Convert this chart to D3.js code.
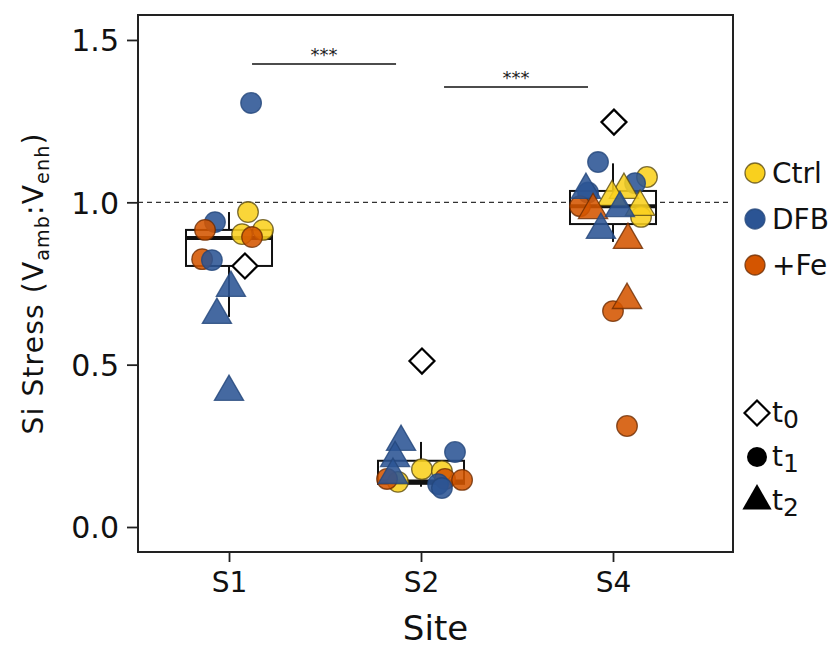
<!DOCTYPE html>
<html><head><meta charset="utf-8">
<script src="https://cdn.jsdelivr.net/npm/d3@7"></script>
<style>body{margin:0;background:#fff}text{font-family:"DejaVu Sans",Verdana,sans-serif}</style>
</head><body><svg id="c" width="833" height="649"></svg>
<script>
// ---- data ----
const sites = ["S1", "S2", "S4"];
const yTicks = [0.0, 0.5, 1.0, 1.5];
const treatments = ["Ctrl", "DFB", "+Fe"];
const times = ["t0", "t1", "t2"];
const colors = ["#F9D01E", "#2B5494", "#D45500"];
const strokes = ["#5c4c12", "#23467a", "#6e2c00"];

// points: site index (1..3), jitter (site units), value, treatment, time
const ptSite = [1,1,1,1,1,1,1,1,1,1,1,1,1,
                2,2,2,2,2,2,2,2,2,2,2,2,2,
                3,3,3,3,3,3,3,3,3,3,3,3,3,3,3,3,3,3];
const ptJitter = [0.115,0.099,-0.073,-0.125,0.068,0.177,0.120,-0.140,-0.089,0.010,-0.063,0.000,0.083,
                  0.177,0.005,0.109,-0.120,-0.177,0.125,0.089,0.109,0.214,-0.104,-0.135,-0.146,0.005,
                  -0.078,0.177,0.115,-0.130,-0.172,0.146,0.000,0.073,-0.141,0.057,-0.005,-0.104,0.141,0.036,-0.063,0.078,0.073,0.005];
const ptValue = [1.306,0.970,0.939,0.915,0.902,0.915,0.893,0.825,0.822,0.736,0.653,0.416,0.804,
                 0.231,0.178,0.172,0.139,0.148,0.148,0.132,0.120,0.145,0.262,0.212,0.160,0.511,
                 1.124,1.078,1.059,1.030,0.988,0.955,0.665,0.311,1.038,1.038,1.016,0.976,0.986,0.982,0.915,0.884,0.699,1.247];
const ptTreatment = ["DFB","Ctrl","DFB","+Fe","Ctrl","Ctrl","+Fe","+Fe","DFB","DFB","DFB","DFB",null,
                     "DFB","Ctrl","Ctrl","Ctrl","+Fe","+Fe","DFB","DFB","+Fe","DFB","DFB","DFB",null,
                     "DFB","Ctrl","DFB","DFB","+Fe","Ctrl","+Fe","+Fe","DFB","Ctrl","Ctrl","+Fe","Ctrl","DFB","DFB","+Fe","+Fe",null];
const ptTime = ["t1","t1","t1","t1","t1","t1","t1","t1","t1","t2","t2","t2","t0",
                "t1","t1","t1","t1","t1","t1","t1","t1","t1","t2","t2","t2","t0",
                "t1","t1","t1","t1","t1","t1","t1","t1","t2","t2","t2","t2","t2","t2","t2","t2","t2","t0"];

// box stats per site
const boxLo  = [0.647, 0.124, 0.878];
const boxQ1  = [0.804, 0.133, 0.933];
const boxMed = [0.890, 0.140, 0.988];
const boxQ3  = [0.915, 0.204, 1.035];
const boxHi  = [0.970, 0.262, 1.120];

// significance brackets: from site, to site (site units), y value, label
const sigFrom = [1.12, 2.12];
const sigTo   = [1.87, 2.87];
const sigY    = [1.426, 1.355];
const sigLabel = ["***", "***"];

// ---- chart ----
const svg = d3.select("#c");
const L = 138, R = 733, T = 15, B = 552;
const x = d3.scaleLinear().domain([0.526, 3.625]).range([L, R]);
const y = d3.scaleLinear().domain([-0.0770, 1.5769]).range([B, T]);
const col = d3.scaleOrdinal().domain(treatments).range(colors);
const scol = d3.scaleOrdinal().domain(treatments).range(strokes);
const boxHalf = 0.224;

// reference line
svg.append("line").attr("x1", L).attr("x2", R).attr("y1", y(1)).attr("y2", y(1))
  .attr("stroke", "#333").attr("stroke-width", 1.3).attr("stroke-dasharray", "5,4");

// boxes
sites.forEach((s, i) => {
  const cx = x(i + 1);
  const g = svg.append("g");
  g.append("line").attr("x1", cx).attr("x2", cx).attr("y1", y(boxHi[i])).attr("y2", y(boxQ3[i]))
    .attr("stroke", "#111").attr("stroke-width", 2);
  g.append("line").attr("x1", cx).attr("x2", cx).attr("y1", y(boxQ1[i])).attr("y2", y(boxLo[i]))
    .attr("stroke", "#111").attr("stroke-width", 2);
  g.append("rect").attr("x", x(i + 1 - boxHalf)).attr("width", x(i + 1 + boxHalf) - x(i + 1 - boxHalf))
    .attr("y", y(boxQ3[i])).attr("height", y(boxQ1[i]) - y(boxQ3[i]))
    .attr("fill", "#fff").attr("stroke", "#111").attr("stroke-width", 2);
  g.append("line").attr("x1", x(i + 1 - boxHalf)).attr("x2", x(i + 1 + boxHalf))
    .attr("y1", y(boxMed[i])).attr("y2", y(boxMed[i])).attr("stroke", "#111").attr("stroke-width", 4);
});

// points
const pts = ptValue.map((v, i) => ({site: ptSite[i], j: ptJitter[i], v, trt: ptTreatment[i], time: ptTime[i]}));
const symCircle = d3.symbol().type(d3.symbolCircle).size(Math.PI * 10.3 * 10.3);
const symTri = d3.symbol().type(d3.symbolTriangle).size(370);
const symDia = () => `M0,-12.5L12.5,0L0,12.5L-12.5,0Z`;
svg.append("g").selectAll("path").data(pts).join("path")
  .attr("transform", d => `translate(${x(d.site + d.j)},${y(d.v)})`)
  .attr("d", d => d.time === "t0" ? symDia() : d.time === "t1" ? symCircle() : symTri())
  .attr("fill", d => d.time === "t0" ? "#fff" : col(d.trt))
  .attr("fill-opacity", d => d.time === "t0" ? 1 : 0.88)
  .attr("stroke", d => d.time === "t0" ? "#000" : scol(d.trt))
  .attr("stroke-opacity", d => d.time === "t0" ? 1 : 0.8)
  .attr("stroke-width", d => d.time === "t0" ? 2.2 : 1.3);

// significance
sigFrom.forEach((f, i) => {
  svg.append("line").attr("x1", x(f)).attr("x2", x(sigTo[i])).attr("y1", y(sigY[i])).attr("y2", y(sigY[i]))
    .attr("stroke", "#111").attr("stroke-width", 1.5);
  svg.append("text").attr("x", x((f + sigTo[i]) / 2)).attr("y", y(sigY[i]) - 3)
    .attr("text-anchor", "middle").attr("font-size", 18).attr("fill", "#222").text(sigLabel[i]);
});

// frame
svg.append("rect").attr("x", L).attr("y", T).attr("width", R - L).attr("height", B - T)
  .attr("fill", "none").attr("stroke", "#222").attr("stroke-width", 2);

// axes
const yAxis = svg.append("g").attr("transform", `translate(${L},0)`)
  .call(d3.axisLeft(y).tickValues(yTicks).tickFormat(d3.format(".1f")).tickSize(11).tickPadding(8));
const xAxis = svg.append("g").attr("transform", `translate(0,${B})`)
  .call(d3.axisBottom(x).tickValues([1, 2, 3]).tickFormat(d => sites[d - 1]).tickSize(10).tickPadding(10));
[yAxis, xAxis].forEach(a => {
  a.select(".domain").remove();
  a.selectAll(".tick line").attr("stroke", "#222").attr("stroke-width", 1.8);
  a.selectAll("text").attr("fill", "#111")
    .style("font-family", '"DejaVu Sans",Verdana,sans-serif');
});
yAxis.selectAll("text").attr("font-size", 30).attr("dy", "0.36em");
xAxis.selectAll("text").attr("font-size", 28);

// axis titles
svg.append("text").attr("x", (L + R) / 2).attr("y", 640).attr("text-anchor", "middle")
  .attr("font-size", 34).attr("fill", "#111").text("Site");
const yt = svg.append("text").attr("transform", `translate(43,${(T + B) / 2}) rotate(-90)`)
  .attr("text-anchor", "middle").attr("font-size", 28).attr("letter-spacing", 1.2).attr("fill", "#111");
yt.append("tspan").text("Si Stress (V");
yt.append("tspan").attr("font-size", 19).attr("dy", 6).text("amb");
yt.append("tspan").attr("dy", -6).text(":V");
yt.append("tspan").attr("font-size", 19).attr("dy", 6).text("enh");
yt.append("tspan").attr("dy", -6).text(")");

// legend: treatments
const legY = d3.scalePoint().domain(treatments).range([173, 265]);
treatments.forEach(t => {
  svg.append("circle").attr("cx", 755).attr("cy", legY(t)).attr("r", 10)
    .attr("fill", col(t)).attr("stroke", scol(t)).attr("stroke-width", 1.3).attr("stroke-opacity", 0.8);
  svg.append("text").attr("x", 772).attr("y", legY(t) + 10).attr("font-size", 28).attr("fill", "#111").text(t);
});
// legend: times
const legT = d3.scalePoint().domain(times).range([413, 501]);
times.forEach(t => {
  const cy = legT(t);
  let d, fill = "#000";
  if (t === "t0") { d = symDia(); fill = "#fff"; }
  else if (t === "t1") d = d3.symbol().type(d3.symbolCircle).size(Math.PI * 100)();
  else d = d3.symbol().type(d3.symbolTriangle).size(370)();
  svg.append("path").attr("transform", `translate(757,${cy})`).attr("d", d)
    .attr("fill", fill).attr("stroke", "#000").attr("stroke-width", t === "t0" ? 2.2 : 0);
  const tx = svg.append("text").attr("x", 772).attr("y", cy + 9).attr("font-size", 28).attr("fill", "#111");
  tx.append("tspan").text("t");
  tx.append("tspan").attr("dy", 6).attr("font-size", 25).text(t.slice(1));
});
</script></body></html>
